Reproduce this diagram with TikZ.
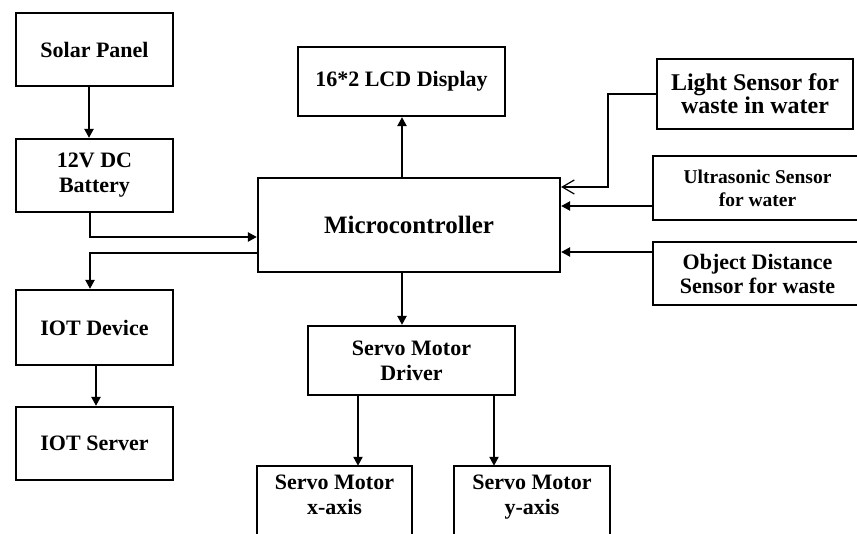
\documentclass[tikz,border=0pt]{standalone}
\usepackage{fontspec}
\setmainfont{Liberation Serif}
\usetikzlibrary{arrows.meta}

\begin{document}
\begin{tikzpicture}[x=1pt,y=-1pt,
    block/.style={draw,line width=2.2pt,align=center,inner sep=0pt,
        font=\fontsize{22}{25}\selectfont\bfseries},
    openblock/.style={align=center,inner sep=0pt,
        font=\fontsize{22}{25}\selectfont\bfseries},
    arr/.style={line width=2.2pt,-{Triangle[length=9pt,width=9pt]}},
    barb/.style={line width=2.2pt,-{Straight Barb[length=12pt,width=14pt,line width=1.2pt]}}]
    % Define dimensions
    \def\leftw{157pt}
    \def\midw{207pt}
    \useasboundingbox (0,0) rectangle (857,534);
    % Power and IOT column on the left
    \node[block,minimum width=\leftw,minimum height=73pt] (solar) at (94.5,49.5) {Solar Panel};
    \node[block,minimum width=\leftw,minimum height=73pt] (battery) at (94.5,175.5) {12V DC\\Battery};
    \node[block,minimum width=\leftw,minimum height=75pt] (iotdev) at (94.5,327.5) {IOT Device};
    \node[block,minimum width=\leftw,minimum height=73pt] (iotsrv) at (94.5,443.5) {IOT Server};
    % Middle column
    \node[block,minimum width=\midw,minimum height=69pt] (lcd) at (401.5,81.5) {16*2 LCD Display};
    \node[block,minimum width=302pt,minimum height=94pt,font=\fontsize{25}{28}\selectfont\bfseries] (micro) at (409,225) {Microcontroller};
    \node[block,minimum width=\midw,minimum height=69pt] (driver) at (411.5,360.5) {Servo Motor\\Driver};
    \node[openblock,minimum width=155pt,minimum height=63pt] (servox) at (334.5,497.5) {Servo Motor\\x-axis\vphantom{y}};
    \node[openblock,minimum width=156pt,minimum height=63pt] (servoy) at (532,497.5) {Servo Motor\\y-axis};
    \draw[line width=2.2pt] ([yshift=-40pt]servox.south west) |- (servox.north east) -- ([yshift=-40pt]servox.south east);
    \draw[line width=2.2pt] ([yshift=-40pt]servoy.south west) |- (servoy.north east) -- ([yshift=-40pt]servoy.south east);
    % Sensors on the right
    \node[block,minimum width=196pt,minimum height=70pt,font=\fontsize{24}{23}\selectfont\bfseries] (light) at (755,94) {Light Sensor for\\waste in water};
    \node[block,minimum width=209pt,minimum height=64pt,font=\fontsize{19.5}{23}\selectfont\bfseries] (ultra) at (757.5,188) {Ultrasonic Sensor\\for water};
    \node[block,minimum width=209pt,minimum height=63pt,font=\fontsize{22}{24}\selectfont\bfseries] (objdist) at (757.5,273.5) {Object Distance\\Sensor for waste};
    % Connections
    \draw[arr] ([xshift=-5.5pt]solar.south) -- ([xshift=-5.5pt]battery.north);
    \draw[arr] ([xshift=-4.5pt]battery.south) |- ([yshift=-12pt]micro.west);
    \draw[arr] ([yshift=-28pt]micro.west) -| ([xshift=-4.5pt]iotdev.north);
    \draw[arr] ([xshift=1.5pt]iotdev.south) -- ([xshift=1.5pt]iotsrv.north);
    \draw[arr] ([xshift=-7pt]micro.north) coordinate (mtop) -- (mtop |- lcd.south);
    \draw[arr] ([xshift=-7pt]micro.south) coordinate (mbot) -- (mbot |- driver.north);
    \draw[arr] ([xshift=-53.5pt]driver.south) coordinate (dx) -- (dx |- servox.north);
    \draw[arr] ([xshift=82.5pt]driver.south) coordinate (dy) -- (dy |- servoy.north);
    \draw[barb] (light.west) -- ++(-48,0) |- ([yshift=38pt]micro.east);
    \draw[arr] ([yshift=-18pt]ultra.west) coordinate (us) -- (us -| micro.east);
    \draw[arr] ([yshift=21.5pt]objdist.west) coordinate (od) -- (od -| micro.east);
\end{tikzpicture}
\end{document}
